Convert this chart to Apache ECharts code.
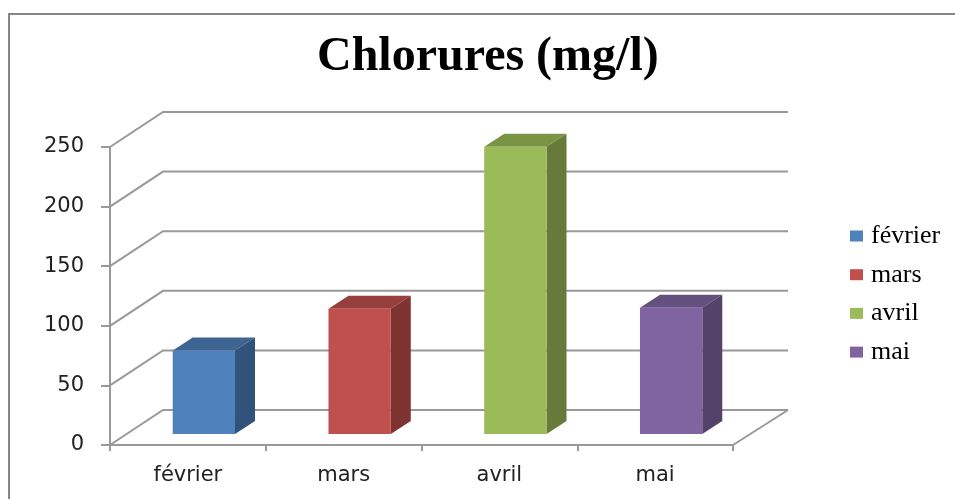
<!DOCTYPE html>
<html>
<head>
<meta charset="utf-8">
<title>Chlorures (mg/l)</title>
<script src="https://cdn.jsdelivr.net/npm/echarts@6/dist/echarts.min.js"></script>
<style>
  html, body { margin: 0; padding: 0; background: #fff; }
  #chart { width: 955px; height: 499px; }
</style>
</head>
<body>
<div id="chart"></div>
<script>
const months = ['février', 'mars', 'avril', 'mai'];
const chlorures = [70, 105, 241, 106];
const yTicks = [0, 50, 100, 150, 200, 250];
const frontColors = ['#4f81bd', '#c0504d', '#9bbb59', '#8064a2'];
const topColors = ['#3e6491', '#973f3c', '#7a9345', '#64507f'];
const sideColors = ['#315279', '#7e3331', '#667b3a', '#54426b'];

const depthX = 53, depthY = 35; // decalage du fond du graphique
const depthRightX = 55;
const barShiftX = 17, barShiftY = 11; // la barre demarre dans la profondeur
const barDepthX = 20, barDepthY = 13;
const lineColor = '#999999';

function renderWall(params, api) {
    const p = api.coord([0, api.value(1)]);
    const left = params.coordSys.x;
    const right = left + params.coordSys.width;
    const children = [{
        type: 'polyline',
        shape: { points: [[left, p[1]], [left + depthX, p[1] - depthY], [right + depthRightX, p[1] - depthY]] },
        style: { stroke: lineColor, lineWidth: 2, fill: null }
    }];
    // cote droit du plancher
    if (api.value(1) === 0) {
        children.push({
            type: 'line',
            shape: { x1: right, y1: p[1], x2: right + depthRightX, y2: p[1] - depthY },
            style: { stroke: lineColor, lineWidth: 2 }
        });
    }
    return { type: 'group', children: children };
}

function renderBar(params, api) {
    const i = api.value(0);
    const w = api.size([1, 0])[0] * 0.4;
    const top = api.coord([i, api.value(1)]);
    const base = api.coord([i, 0]);
    const x0 = top[0] - w / 2 + barShiftX - 1;
    const x1 = x0 + w;
    const y0 = top[1] - barShiftY;
    const y1 = base[1] - barShiftY;
    const dx = barDepthX, dy = barDepthY;
    return {
        type: 'group',
        children: [
            { type: 'polygon', shape: { points: [[x0, y0], [x1, y0], [x1 + dx, y0 - dy], [x0 + dx, y0 - dy]] }, style: { fill: topColors[i] } },
            { type: 'polygon', shape: { points: [[x1, y0], [x1 + dx, y0 - dy], [x1 + dx, y1 - dy], [x1, y1]] }, style: { fill: sideColors[i] } },
            { type: 'rect', shape: { x: x0, y: y0, width: w, height: y1 - y0 }, style: { fill: frontColors[i] } }
        ]
    };
}

const series = [{
    type: 'custom',
    name: 'wall',
    silent: true,
    z: 1,
    data: yTicks.map(function (v) { return [0, v]; }),
    renderItem: renderWall
}];
months.forEach(function (m, i) {
    series.push({
        type: 'custom',
        name: m,
        z: 3,
        itemStyle: { color: frontColors[i] },
        data: [[i, chlorures[i]]],
        renderItem: renderBar
    });
});

const myChart = echarts.init(document.getElementById('chart'), null, { renderer: 'canvas' });
const option = {
    animation: false,
    backgroundColor: '#ffffff',
    title: {
        text: 'Chlorures (mg/l)',
        left: 312,
        top: 29,
        textStyle: { fontFamily: 'Liberation Serif', fontSize: 48, fontWeight: 'bold', color: '#000000' }
    },
    legend: {
        data: months,
        orient: 'vertical',
        left: 845,
        top: 218,
        icon: 'rect',
        itemWidth: 13,
        itemHeight: 11,
        itemGap: 12.7,
        textStyle: { fontFamily: 'Liberation Serif', fontSize: 26, color: '#000000', padding: [0, 0, 0, 3] }
    },
    grid: { left: 110, right: 222, top: 147, bottom: 54 },
    xAxis: {
        type: 'category',
        data: months,
        axisLine: { lineStyle: { color: lineColor, width: 2 } },
        axisTick: { show: true, length: 6, lineStyle: { color: lineColor, width: 2 } },
        axisLabel: { fontFamily: 'DejaVu Sans', fontSize: 21, color: '#222222', margin: 20 }
    },
    yAxis: {
        type: 'value',
        min: yTicks[0],
        max: yTicks[yTicks.length - 1],
        interval: 50,
        axisLine: { show: true, lineStyle: { color: lineColor, width: 2 } },
        axisTick: { show: true, length: 9, lineStyle: { color: lineColor, width: 2 } },
        axisLabel: { fontFamily: 'DejaVu Sans', fontSize: 21, color: '#222222', margin: 26 },
        splitLine: { show: false }
    },
    graphic: [
        { type: 'polyline', silent: true, shape: { points: [[9, 499], [9, 14], [955, 14]] }, style: { stroke: '#868686', lineWidth: 2, fill: null } }
    ],
    series: series
};
myChart.setOption(option);
</script>
</body>
</html>
